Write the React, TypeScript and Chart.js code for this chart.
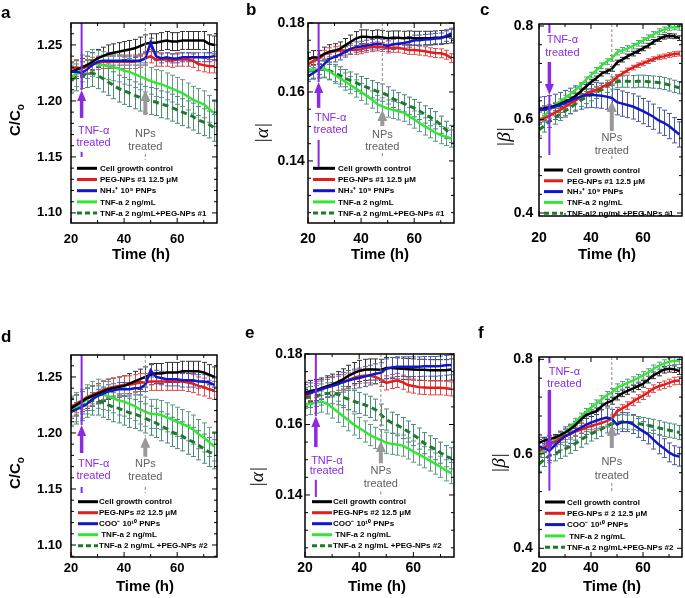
import { useEffect, useRef } from "react";
import { Chart, registerables } from "chart.js";
Chart.register(...registerables);

// ---------- data ----------
const TIME = [20, 22, 24, 26, 28, 30, 32, 34, 36, 38, 40, 42, 44, 46, 48, 50, 52, 54, 56, 58, 60, 62, 64, 66, 68, 70, 72, 74];

// panel a : C/Co (NH3+ PNPs)
const A_CTRL = [1.226, 1.228, 1.230, 1.232, 1.235, 1.238, 1.240, 1.242, 1.243, 1.244, 1.245, 1.246, 1.247, 1.249, 1.251, 1.252, 1.252, 1.253, 1.254, 1.253, 1.253, 1.254, 1.254, 1.254, 1.254, 1.254, 1.251, 1.250];
const A_PEG = [1.229, 1.230, 1.229, 1.231, 1.233, 1.234, 1.235, 1.235, 1.235, 1.235, 1.235, 1.235, 1.235, 1.236, 1.238, 1.240, 1.237, 1.237, 1.237, 1.236, 1.237, 1.237, 1.237, 1.236, 1.233, 1.232, 1.231, 1.231];
const A_PNP = [1.226, 1.226, 1.225, 1.228, 1.232, 1.235, 1.236, 1.236, 1.236, 1.236, 1.236, 1.236, 1.236, 1.236, 1.238, 1.252, 1.240, 1.238, 1.239, 1.238, 1.238, 1.239, 1.239, 1.239, 1.239, 1.239, 1.239, 1.240];
const A_TNF = [1.220, 1.225, 1.229, 1.232, 1.234, 1.233, 1.232, 1.231, 1.230, 1.229, 1.227, 1.226, 1.224, 1.222, 1.220, 1.218, 1.216, 1.215, 1.213, 1.211, 1.209, 1.207, 1.204, 1.201, 1.199, 1.197, 1.193, 1.189];
const A_TNFPEG = [1.219, 1.221, 1.223, 1.224, 1.225, 1.223, 1.220, 1.217, 1.214, 1.211, 1.209, 1.207, 1.205, 1.203, 1.201, 1.200, 1.199, 1.197, 1.196, 1.194, 1.192, 1.190, 1.188, 1.186, 1.183, 1.181, 1.179, 1.176];
const A_ERR = [0.008, 0.006, 0.004, 0.012, 0.012];

// panel b : |alpha| (NH3+ PNPs)
const B_CTRL = [0.1695, 0.1700, 0.1700, 0.1710, 0.1717, 0.1720, 0.1725, 0.1735, 0.1745, 0.1755, 0.1760, 0.1760, 0.1758, 0.1760, 0.1758, 0.1756, 0.1757, 0.1757, 0.1756, 0.1757, 0.1756, 0.1756, 0.1756, 0.1756, 0.1757, 0.1758, 0.1760, 0.1762];
const B_PEG = [0.1680, 0.1690, 0.1695, 0.1708, 0.1715, 0.1718, 0.1720, 0.1720, 0.1722, 0.1722, 0.1724, 0.1728, 0.1730, 0.1732, 0.1730, 0.1726, 0.1728, 0.1728, 0.1725, 0.1722, 0.1722, 0.1720, 0.1718, 0.1715, 0.1713, 0.1712, 0.1708, 0.1698];
const B_PNP = [0.1645, 0.1655, 0.1665, 0.1680, 0.1695, 0.1702, 0.1708, 0.1716, 0.1725, 0.1730, 0.1732, 0.1735, 0.1737, 0.1740, 0.1738, 0.1733, 0.1738, 0.1740, 0.1742, 0.1745, 0.1750, 0.1750, 0.1752, 0.1753, 0.1755, 0.1756, 0.1762, 0.1770];
const B_TNF = [0.1662, 0.1664, 0.1666, 0.1668, 0.1660, 0.1650, 0.1640, 0.1630, 0.1620, 0.1610, 0.1600, 0.1590, 0.1578, 0.1565, 0.1558, 0.1552, 0.1548, 0.1544, 0.1540, 0.1530, 0.1520, 0.1510, 0.1500, 0.1492, 0.1482, 0.1475, 0.1470, 0.1465];
const B_TNFPEG = [0.1660, 0.1662, 0.1665, 0.1666, 0.1662, 0.1655, 0.1648, 0.1640, 0.1633, 0.1627, 0.1620, 0.1614, 0.1608, 0.1602, 0.1598, 0.1590, 0.1580, 0.1573, 0.1567, 0.1560, 0.1553, 0.1545, 0.1535, 0.1527, 0.1518, 0.1505, 0.1490, 0.1478];
const B_ERR = [0.002, 0.0013, 0.0015, 0.0025, 0.0025];

// panel c : |beta| (NH3+ PNPs)
const C_CTRL = [0.621, 0.624, 0.626, 0.629, 0.633, 0.638, 0.643, 0.650, 0.660, 0.670, 0.680, 0.688, 0.698, 0.703, 0.708, 0.722, 0.728, 0.735, 0.741, 0.746, 0.752, 0.758, 0.766, 0.772, 0.777, 0.779, 0.778, 0.774];
const C_PEG = [0.598, 0.603, 0.608, 0.614, 0.620, 0.627, 0.634, 0.640, 0.648, 0.655, 0.660, 0.663, 0.668, 0.674, 0.681, 0.691, 0.698, 0.705, 0.711, 0.716, 0.720, 0.725, 0.729, 0.733, 0.735, 0.738, 0.740, 0.741];
const C_PNP = [0.621, 0.622, 0.624, 0.627, 0.631, 0.635, 0.640, 0.645, 0.649, 0.652, 0.653, 0.652, 0.651, 0.649, 0.646, 0.637, 0.634, 0.631, 0.628, 0.623, 0.618, 0.612, 0.606, 0.598, 0.593, 0.586, 0.577, 0.568];
const C_TNF = [0.595, 0.606, 0.620, 0.630, 0.638, 0.646, 0.654, 0.663, 0.673, 0.685, 0.695, 0.705, 0.715, 0.724, 0.731, 0.744, 0.748, 0.752, 0.757, 0.763, 0.769, 0.775, 0.782, 0.788, 0.792, 0.796, 0.798, 0.797];
const C_TNFPEG = [0.578, 0.586, 0.596, 0.603, 0.611, 0.618, 0.625, 0.633, 0.641, 0.647, 0.653, 0.658, 0.664, 0.671, 0.678, 0.681, 0.682, 0.682, 0.681, 0.682, 0.682, 0.681, 0.680, 0.679, 0.677, 0.674, 0.671, 0.668];
const C_ERR = [0.005, 0.005, 0.027, 0.006, 0.013];

// panel d : C/Co (COO- PNPs)
const D_CTRL = [1.222, 1.225, 1.228, 1.231, 1.233, 1.235, 1.237, 1.239, 1.240, 1.241, 1.242, 1.244, 1.246, 1.248, 1.250, 1.252, 1.253, 1.253, 1.254, 1.254, 1.254, 1.255, 1.255, 1.255, 1.255, 1.254, 1.252, 1.250];
const D_PEG = [1.223, 1.226, 1.229, 1.232, 1.234, 1.236, 1.238, 1.240, 1.241, 1.242, 1.243, 1.243, 1.244, 1.245, 1.245, 1.246, 1.246, 1.246, 1.246, 1.246, 1.246, 1.246, 1.245, 1.244, 1.242, 1.241, 1.239, 1.238];
const D_PNP = [1.219, 1.221, 1.223, 1.226, 1.230, 1.233, 1.235, 1.237, 1.238, 1.239, 1.239, 1.239, 1.240, 1.240, 1.243, 1.256, 1.250, 1.249, 1.248, 1.248, 1.248, 1.247, 1.247, 1.247, 1.246, 1.246, 1.245, 1.243];
const D_TNF = [1.220, 1.223, 1.226, 1.230, 1.233, 1.235, 1.234, 1.233, 1.231, 1.229, 1.228, 1.226, 1.224, 1.221, 1.219, 1.217, 1.217, 1.216, 1.214, 1.212, 1.210, 1.208, 1.206, 1.203, 1.199, 1.196, 1.192, 1.188];
const D_TNFPEG = [1.219, 1.221, 1.224, 1.227, 1.229, 1.229, 1.227, 1.225, 1.223, 1.222, 1.220, 1.218, 1.217, 1.215, 1.213, 1.211, 1.209, 1.206, 1.204, 1.201, 1.199, 1.197, 1.194, 1.192, 1.189, 1.186, 1.183, 1.181];
const D_ERR = [0.009, 0.008, 0.006, 0.013, 0.013];

// panel e : |alpha| (COO- PNPs)
const E_CTRL = [0.1690, 0.1695, 0.1698, 0.1702, 0.1708, 0.1713, 0.1720, 0.1728, 0.1738, 0.1746, 0.1752, 0.1755, 0.1756, 0.1756, 0.1755, 0.1760, 0.1760, 0.1759, 0.1758, 0.1757, 0.1756, 0.1755, 0.1755, 0.1754, 0.1754, 0.1754, 0.1754, 0.1756];
const E_PEG = [0.1678, 0.1688, 0.1697, 0.1703, 0.1708, 0.1713, 0.1717, 0.1721, 0.1726, 0.1732, 0.1737, 0.1738, 0.1738, 0.1735, 0.1728, 0.1718, 0.1722, 0.1725, 0.1720, 0.1712, 0.1709, 0.1706, 0.1705, 0.1704, 0.1704, 0.1704, 0.1703, 0.1701];
const E_PNP = [0.1685, 0.1690, 0.1695, 0.1700, 0.1705, 0.1709, 0.1714, 0.1720, 0.1725, 0.1729, 0.1732, 0.1736, 0.1740, 0.1744, 0.1747, 0.1758, 0.1762, 0.1764, 0.1764, 0.1764, 0.1764, 0.1764, 0.1765, 0.1765, 0.1765, 0.1766, 0.1768, 0.1769];
const E_TNF = [0.1656, 0.1658, 0.1662, 0.1665, 0.1660, 0.1648, 0.1636, 0.1624, 0.1612, 0.1600, 0.1590, 0.1580, 0.1570, 0.1562, 0.1556, 0.1548, 0.1545, 0.1543, 0.1540, 0.1532, 0.1523, 0.1515, 0.1507, 0.1498, 0.1489, 0.1480, 0.1470, 0.1462];
const E_TNFPEG = [0.1675, 0.1678, 0.1681, 0.1685, 0.1688, 0.1689, 0.1686, 0.1678, 0.1672, 0.1666, 0.1661, 0.1656, 0.1650, 0.1642, 0.1628, 0.1614, 0.1605, 0.1598, 0.1590, 0.1580, 0.1570, 0.1560, 0.1547, 0.1538, 0.1530, 0.1520, 0.1510, 0.1504];
const E_ERR = [0.003, 0.002, 0.0028, 0.003, 0.003];

// panel f : |beta| (COO- PNPs)
const F_CTRL = [0.623, 0.628, 0.631, 0.634, 0.639, 0.645, 0.652, 0.661, 0.672, 0.682, 0.686, 0.690, 0.700, 0.708, 0.712, 0.721, 0.728, 0.733, 0.738, 0.743, 0.748, 0.757, 0.766, 0.772, 0.778, 0.780, 0.779, 0.775];
const F_PEG = [0.606, 0.613, 0.620, 0.625, 0.632, 0.638, 0.642, 0.647, 0.651, 0.655, 0.659, 0.662, 0.665, 0.669, 0.674, 0.690, 0.696, 0.702, 0.710, 0.717, 0.723, 0.730, 0.738, 0.743, 0.746, 0.750, 0.754, 0.755];
const F_PNP = [0.615, 0.612, 0.606, 0.618, 0.628, 0.637, 0.642, 0.649, 0.655, 0.661, 0.666, 0.670, 0.674, 0.677, 0.674, 0.662, 0.667, 0.667, 0.663, 0.655, 0.648, 0.641, 0.630, 0.620, 0.612, 0.603, 0.597, 0.594];
const F_TNF = [0.600, 0.610, 0.620, 0.629, 0.637, 0.645, 0.655, 0.667, 0.678, 0.688, 0.698, 0.706, 0.715, 0.724, 0.730, 0.740, 0.745, 0.750, 0.755, 0.760, 0.766, 0.772, 0.780, 0.786, 0.791, 0.795, 0.797, 0.797];
const F_TNFPEG = [0.578, 0.588, 0.596, 0.600, 0.605, 0.610, 0.616, 0.622, 0.629, 0.636, 0.642, 0.647, 0.652, 0.659, 0.663, 0.666, 0.668, 0.667, 0.666, 0.664, 0.662, 0.660, 0.658, 0.655, 0.652, 0.650, 0.648, 0.645];
const F_ERR = [0.007, 0.008, 0.02, 0.008, 0.015];

// tick labels
const X_TICKS = [20, 40, 60];
const Y_TICKS_C = [1.10, 1.15, 1.20, 1.25];
const Y_TICKS_ALPHA = [0.14, 0.16, 0.18];
const Y_TICKS_BETA = [0.4, 0.6, 0.8];

// legend labels
const LEGEND_1 = ["Cell growth control", "PEG-NPs #1 12.5 \u03bcM", "NH\u2083\u207a 10\u2079 PNPs", "TNF-a 2 ng/mL", "TNF-a 2 ng/mL+PEG-NPs #1"];
const LEGEND_2 = ["Cell growth control", "PEG-NPs #2 12.5 \u03bcM", "COO\u207b 10\u00b9\u2070 PNPs", " TNF-a 2 ng/mL", "TNF-a 2 ng/mL +PEG-NPs #2"];
const LEGEND_3 = ["Cell growth control", "PEG-NPs # 2 12.5 \u03bcM", "COO\u207b 10\u00b9\u2070 PNPs", " TNF-a 2 ng/mL", "TNF-a 2 ng/mL+PEG-NPs #2"];

const TNF_TIME = 24;
const NP_TIME = 48;

// ---------- styles ----------
const LINE_COLORS = ["#000000", "#e41c1c", "#1414c8", "#33e633", "#1e7a2a"];
const ERR_COLORS = ["#333333", "#dd4a4a", "#4a58a8", "#5f9a8a", "#4a8a78"];
const PURPLE = "#8a2be2";
const GRAY = "#999999";
const SANS = "'Liberation Sans', Arial, sans-serif";
const SERIF = "'Liberation Serif', 'Times New Roman', serif";

type Ann = { thin: number[][]; arrow: number[]; text: number[]; dx: number };

type Panel = {
  letter: string; letterXY: number[];
  rect: number[]; yMin: number; yMax: number; yTicks: number[]; yMinor: number; yDec: number;
  tickFont: number; xLabOff: number; yLabGap: number;
  yTitle: "C" | "a" | "b"; yTitleXY: number[]; xTitleXY: number[];
  series: number[][]; err: number[]; legend: string[];
  leg: { row0: number; dy: number; lx: number; len: number; tx: number };
  tnf: Ann; np: Ann;
};

const PANELS: Panel[] = [
  {
    letter: "a", letterXY: [1, 13], rect: [71, 23, 217, 223], yMin: 1.091, yMax: 1.2696, yTicks: Y_TICKS_C, yMinor: 0.01, yDec: 2,
    tickFont: 13, xLabOff: 16.6, yLabGap: 8.7, yTitle: "C", yTitleXY: [16, 120], xTitleXY: [141, 255],
    series: [A_CTRL, A_PEG, A_PNP, A_TNF, A_TNFPEG], err: A_ERR, legend: LEGEND_1,
    leg: { row0: 54.7, dy: 11.2, lx: 6, len: 20, tx: 29 },
    tnf: { thin: [[1.2696, 1.2098], [1.1545, 1.150]], arrow: [1.1848, 1.2098], text: [1.1732, 1.1625], dx: 12 },
    np: { thin: [[1.2696, 1.2098], [1.1527, 1.1473]], arrow: [1.1875, 1.2098], text: [1.1705, 1.1592], dx: 0 },
  },
  {
    letter: "b", letterXY: [246, 10], rect: [308, 23, 454, 223], yMin: 0.122, yMax: 0.18, yTicks: Y_TICKS_ALPHA, yMinor: 0.005, yDec: 2,
    tickFont: 14, xLabOff: 16.6, yLabGap: 3.3, yTitle: "a", yTitleXY: [263, 133], xTitleXY: [380, 255],
    series: [B_CTRL, B_PEG, B_PNP, B_TNF, B_TNFPEG], err: B_ERR, legend: LEGEND_1,
    leg: { row0: 54.7, dy: 11.2, lx: 5, len: 22, tx: 30 },
    tnf: { thin: [[0.18, 0.1629], [0.1461, 0.1383]], arrow: [0.1554, 0.1629], text: [0.1525, 0.1490], dx: 12 },
    np: { thin: [[0.18, 0.1548], [0.1423, 0.1409]], arrow: [0.1501, 0.1548], text: [0.1475, 0.1440], dx: 0 },
  },
  {
    letter: "c", letterXY: [480, 10], rect: [539, 24, 682, 216], yMin: 0.3936, yMax: 0.8043, yTicks: Y_TICKS_BETA, yMinor: 0.04, yDec: 1,
    tickFont: 14, xLabOff: 22, yLabGap: 5.7, yTitle: "b", yTitleXY: [505, 137], xTitleXY: [607, 255],
    series: [C_CTRL, C_PEG, C_PNP, C_TNF, C_TNFPEG], err: C_ERR, legend: LEGEND_1,
    leg: { row0: 46, dy: 10.8, lx: 5, len: 19, tx: 28 },
    tnf: { thin: [[0.8043, 0.785], [0.6524, 0.5241]], arrow: [0.723, 0.6524], text: [0.770, 0.7422], dx: 13 },
    np: { thin: [[0.8043, 0.6396], [0.522, 0.5134]], arrow: [0.5754, 0.6396], text: [0.561, 0.5333], dx: 0 },
  },
  {
    letter: "d", letterXY: [1, 337], rect: [71, 355, 217, 557], yMin: 1.0893, yMax: 1.2696, yTicks: Y_TICKS_C, yMinor: 0.01, yDec: 2,
    tickFont: 13, xLabOff: 11.6, yLabGap: 8.7, yTitle: "C", yTitleXY: [16, 473], xTitleXY: [145, 587],
    series: [D_CTRL, D_PEG, D_PNP, D_TNF, D_TNFPEG], err: D_ERR, legend: LEGEND_2,
    leg: { row0: 55.3, dy: 11, lx: 7, len: 20, tx: 28 },
    tnf: { thin: [[1.2696, 1.2071], [1.1518, 1.1464]], arrow: [1.1821, 1.2071], text: [1.1723, 1.1619], dx: 12 },
    np: { thin: [[1.2696, 1.1967], [1.1518, 1.1464]], arrow: [1.1788, 1.1967], text: [1.1723, 1.1610], dx: 0 },
  },
  {
    letter: "e", letterXY: [245, 333], rect: [305, 354, 454, 557], yMin: 0.1224, yMax: 0.18, yTicks: Y_TICKS_ALPHA, yMinor: 0.005, yDec: 2,
    tickFont: 14, xLabOff: 11.6, yLabGap: 2.5, yTitle: "a", yTitleXY: [258, 477], xTitleXY: [377, 587],
    series: [E_CTRL, E_PEG, E_PNP, E_TNF, E_TNFPEG], err: E_ERR, legend: LEGEND_2,
    leg: { row0: 55.3, dy: 11, lx: 7, len: 20, tx: 28 },
    tnf: { thin: [[0.18, 0.1624], [0.1443, 0.1394]], arrow: [0.1536, 0.1624], text: [0.1497, 0.1469], dx: 11 },
    np: { thin: [[0.18, 0.1553], [0.141, 0.1395]], arrow: [0.149, 0.1553], text: [0.1469, 0.1431], dx: 0 },
  },
  {
    letter: "f", letterXY: [478, 333], rect: [539, 357, 682, 557], yMin: 0.3816, yMax: 0.8049, yTicks: Y_TICKS_BETA, yMinor: 0.04, yDec: 1,
    tickFont: 14, xLabOff: 11.6, yLabGap: 6.3, yTitle: "b", yTitleXY: [500, 463], xTitleXY: [612, 587],
    series: [F_CTRL, F_PEG, F_PNP, F_TNF, F_TNFPEG], err: F_ERR, legend: LEGEND_3,
    leg: { row0: 55, dy: 11.3, lx: 6, len: 20, tx: 28 },
    tnf: { thin: [[0.8049, 0.792], [0.6038, 0.5219]], arrow: [0.735, 0.6038], text: [0.7738, 0.7477], dx: 15 },
    np: { thin: [[0.8049, 0.661], [0.5382, 0.517]], arrow: [0.6123, 0.661], text: [0.5826, 0.5536], dx: 0 },
  },
];

function drawArrow(ctx: CanvasRenderingContext2D, x: number, yTail: number, yTip: number, color: string, shaft: number, headW: number, headH: number) {
  const dir = yTip < yTail ? -1 : 1;
  ctx.save();
  ctx.strokeStyle = color;
  ctx.fillStyle = color;
  ctx.lineWidth = shaft;
  ctx.beginPath();
  ctx.moveTo(x, yTail);
  ctx.lineTo(x, yTip - dir * headH * 0.8);
  ctx.stroke();
  ctx.beginPath();
  ctx.moveTo(x, yTip);
  ctx.lineTo(x - headW / 2, yTip - dir * headH);
  ctx.lineTo(x + headW / 2, yTip - dir * headH);
  ctx.closePath();
  ctx.fill();
  ctx.restore();
}

function makePlugin(p: Panel) {
  return {
    id: "panel_" + p.letter,
    beforeDatasetsDraw(chart: any) {
      const { ctx, chartArea: ca, scales } = chart;
      const xs = scales.x, ys = scales.y;
      ctx.save();
      ctx.beginPath();
      ctx.rect(ca.left, ca.top, ca.right - ca.left, ca.bottom - ca.top);
      ctx.clip();
      ctx.lineWidth = 1;
      p.series.forEach((s, si) => {
        const e = p.err[si];
        ctx.strokeStyle = ERR_COLORS[si];
        TIME.forEach((t, i) => {
          const px = Math.round(xs.getPixelForValue(t)) + 0.5;
          const y1 = ys.getPixelForValue(s[i] + e);
          const y2 = ys.getPixelForValue(s[i] - e);
          ctx.beginPath();
          ctx.moveTo(px, y1); ctx.lineTo(px, y2);
          ctx.moveTo(px - 2.5, y1); ctx.lineTo(px + 2.5, y1);
          ctx.moveTo(px - 2.5, y2); ctx.lineTo(px + 2.5, y2);
          ctx.stroke();
        });
      });
      ctx.restore();
    },
    afterDatasetsDraw(chart: any) {
      const { ctx, chartArea: ca, scales } = chart;
      const xs = scales.x, ys = scales.y;
      // TNF annotation
      const xT = xs.getPixelForValue(TNF_TIME);
      ctx.save();
      ctx.strokeStyle = PURPLE;
      ctx.lineWidth = 2;
      p.tnf.thin.forEach(([a, b]) => {
        ctx.beginPath();
        ctx.moveTo(xT, ys.getPixelForValue(a));
        ctx.lineTo(xT, ys.getPixelForValue(b));
        ctx.stroke();
      });
      drawArrow(ctx, xT, ys.getPixelForValue(p.tnf.arrow[0]), ys.getPixelForValue(p.tnf.arrow[1]), PURPLE, 3.5, 9, 11);
      ctx.fillStyle = PURPLE;
      ctx.font = `11px ${SANS}`;
      ctx.textAlign = "center";
      ctx.textBaseline = "middle";
      ctx.fillText("TNF-\u03b1", xT + p.tnf.dx, ys.getPixelForValue(p.tnf.text[0]));
      ctx.fillText("treated", xT + p.tnf.dx, ys.getPixelForValue(p.tnf.text[1]));
      ctx.restore();

      // NPs annotation
      const xN = xs.getPixelForValue(NP_TIME);
      ctx.save();
      ctx.strokeStyle = "#8a8a8a";
      ctx.lineWidth = 1;
      ctx.setLineDash([3, 2]);
      p.np.thin.forEach(([a, b]) => {
        ctx.beginPath();
        ctx.moveTo(xN, ys.getPixelForValue(a));
        ctx.lineTo(xN, ys.getPixelForValue(b));
        ctx.stroke();
      });
      ctx.setLineDash([]);
      drawArrow(ctx, xN, ys.getPixelForValue(p.np.arrow[0]), ys.getPixelForValue(p.np.arrow[1]), GRAY, 4, 10, 11);
      ctx.fillStyle = "#606060";
      ctx.font = `11px ${SANS}`;
      ctx.textAlign = "center";
      ctx.textBaseline = "middle";
      ctx.fillText("NPs", xN + p.np.dx, ys.getPixelForValue(p.np.text[0]));
      ctx.fillText("treated", xN + p.np.dx, ys.getPixelForValue(p.np.text[1]));
      ctx.restore();

      // legend
      ctx.save();
      ctx.font = `bold 8px ${SANS}`;
      ctx.textAlign = "left";
      ctx.textBaseline = "middle";
      p.legend.forEach((lab, i) => {
        const y = ca.bottom - p.leg.row0 + i * p.leg.dy;
        ctx.strokeStyle = LINE_COLORS[i];
        ctx.lineWidth = 3;
        ctx.setLineDash(i === 4 ? [5, 3] : []);
        ctx.beginPath();
        ctx.moveTo(ca.left + p.leg.lx, y);
        ctx.lineTo(ca.left + p.leg.lx + p.leg.len, y);
        ctx.stroke();
        ctx.setLineDash([]);
        ctx.fillStyle = "#000";
        ctx.fillText(lab, ca.left + p.leg.tx, y + 0.5);
      });
      ctx.restore();
    },
    afterDraw(chart: any) {
      const { ctx, chartArea: ca, scales } = chart;
      const xs = scales.x, ys = scales.y;
      ctx.save();
      // frame
      ctx.strokeStyle = "#000";
      ctx.lineWidth = 1.5;
      ctx.strokeRect(ca.left, ca.top, ca.right - ca.left, ca.bottom - ca.top);
      // ticks
      ctx.lineWidth = 1;
      ctx.beginPath();
      for (let t = 20; t <= 75.001; t += 10) {
        const px = xs.getPixelForValue(t);
        const L = t % 20 === 0 ? 5 : 3;
        ctx.moveTo(px, ca.bottom); ctx.lineTo(px, ca.bottom - L);
        ctx.moveTo(px, ca.top); ctx.lineTo(px, ca.top + L);
      }
      const start = Math.ceil(p.yMin / p.yMinor - 1e-6);
      const end = Math.floor(p.yMax / p.yMinor + 1e-6);
      for (let k = start; k <= end; k++) {
        const v = k * p.yMinor;
        const py = ys.getPixelForValue(v);
        const major = p.yTicks.some((m) => Math.abs(m - v) < 1e-6);
        const L = major ? 5 : 3;
        ctx.moveTo(ca.left, py); ctx.lineTo(ca.left + L, py);
        ctx.moveTo(ca.right, py); ctx.lineTo(ca.right - L, py);
      }
      ctx.stroke();

      // tick labels
      ctx.fillStyle = "#000";
      ctx.font = `bold ${p.tickFont}px ${SANS}`;
      ctx.textBaseline = "middle";
      ctx.textAlign = "center";
      X_TICKS.forEach((t) => ctx.fillText(String(t), xs.getPixelForValue(t), ca.bottom + p.xLabOff));
      ctx.textAlign = "right";
      p.yTicks.forEach((v) => ctx.fillText(v.toFixed(p.yDec), ca.left - p.yLabGap, ys.getPixelForValue(v)));

      // x title
      ctx.textAlign = "center";
      ctx.font = `bold 15px ${SANS}`;
      ctx.fillText("Time (h)", p.xTitleXY[0], p.xTitleXY[1]);

      // y title
      ctx.save();
      ctx.translate(p.yTitleXY[0], p.yTitleXY[1]);
      ctx.rotate(-Math.PI / 2);
      ctx.textBaseline = "middle";
      if (p.yTitle === "C") {
        ctx.font = `bold 15px ${SANS}`;
        const w1 = ctx.measureText("C/C").width;
        ctx.font = `bold 10px ${SANS}`;
        const w2 = ctx.measureText("o").width;
        ctx.textAlign = "left";
        ctx.font = `bold 15px ${SANS}`;
        ctx.fillText("C/C", -(w1 + w2) / 2, 0);
        ctx.font = `bold 10px ${SANS}`;
        ctx.fillText("o", -(w1 + w2) / 2 + w1, 5);
      } else {
        ctx.textAlign = "center";
        ctx.font = `italic 19px ${SERIF}`;
        ctx.fillText(p.yTitle === "a" ? "|\u03b1|" : "|\u03b2|", 0, 0);
      }
      ctx.restore();

      // panel letter
      ctx.textAlign = "left";
      ctx.textBaseline = "middle";
      ctx.font = `bold 17px ${SANS}`;
      ctx.fillText(p.letter, p.letterXY[0], p.letterXY[1]);
      ctx.restore();
    },
  };
}

function PanelChart({ p }: { p: Panel }) {
  const ref = useRef<HTMLCanvasElement>(null);
  useEffect(() => {
    const [l, t, r, b] = p.rect;
    const datasets = p.series.map((s, i) => ({
      label: p.legend[i],
      data: TIME.map((x, k) => ({ x, y: s[k] })),
      borderColor: LINE_COLORS[i],
      backgroundColor: LINE_COLORS[i],
      borderWidth: i === 4 ? 3 : 2.5,
      borderDash: i === 4 ? [6, 4] : [],
      pointRadius: 0,
      fill: false,
      tension: 0,
      order: [1, 2, 0, 3, 4][i],
    }));
    const chart = new Chart(ref.current as HTMLCanvasElement, {
      type: "line",
      data: { datasets },
      options: {
        animation: false,
        responsive: false,
        devicePixelRatio: 1,
        layout: { padding: { left: l, top: t, right: 685 - r, bottom: 598 - b } },
        plugins: { legend: { display: false }, tooltip: { enabled: false }, title: { display: false } },
        scales: {
          x: { type: "linear", min: 20, max: 75, display: false },
          y: { type: "linear", min: p.yMin, max: p.yMax, display: false },
        },
      },
      plugins: [makePlugin(p)],
    } as any);
    return () => chart.destroy();
  }, []);
  return <canvas ref={ref} width={685} height={598} style={{ position: "absolute", left: 0, top: 0 }} />;
}

export default function App() {
  return (
    <div style={{ position: "fixed", left: 0, top: 0, width: 685, height: 598, background: "#fff", overflow: "hidden" }}>
      {PANELS.map((p) => (
        <PanelChart key={p.letter} p={p} />
      ))}
    </div>
  );
}
